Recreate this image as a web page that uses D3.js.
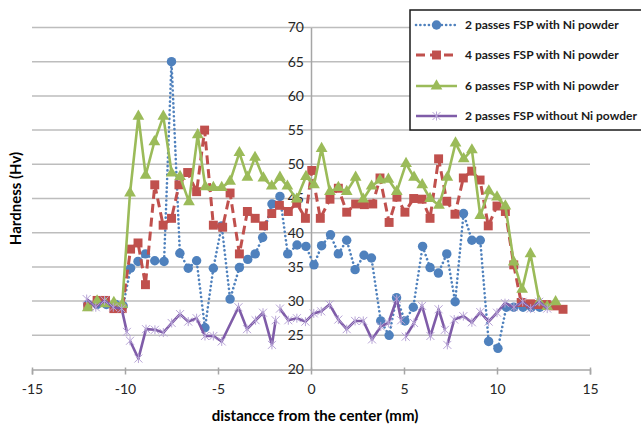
<!DOCTYPE html>
<html>
<head>
<meta charset="utf-8">
<script src="https://cdn.jsdelivr.net/npm/d3@7"></script>
<style>
  body { margin: 0; background: #fff; }
  text { font-family: Lato, "Liberation Sans", sans-serif; }
</style>
</head>
<body>
<div id="container"></div>
<script>
// series values (null = gap in the line)
const blueX = [-12, -11.5, -11, -10.5, -10.1, -9.7, -9.3, -8.9, -8.4, -7.9, -7.5, -7.05, -6.6, -6.15, -5.7, -5.25, -4.8, -4.35, -3.85, -3.4, -3.0, -2.6, -2.1, -1.67, -1.25, -0.75, -0.27, 0.16, 0.57, 1.05, 1.47, 1.92, 2.37, 2.85, 3.25, 3.75, 4.2, 4.6, 5.05, 5.5, 6.0, 6.4, 6.85, 7.3, 7.75, 8.2, 8.65, 9.1, 9.55, 10.05, 10.5, 10.9, 11.4, 11.85, 12.3];
const blueY = [29.5, 29.5, 29.5, 29.5, 29.3, 34.8, 35.8, 36.9, 35.9, 35.8, 65, 37, 34.8, 35.9, 26.1, 34.8, 41, 30.3, 34.9, 36.1, 36.9, 39.3, 44.2, 45.3, 36.9, 38.2, 38, 35.3, 38.1, 39.7, 36.9, 38.9, 34.6, 36.7, 36.3, 27.1, 25, 30.5, 27.1, 29.1, 38, 34.9, 34.1, 36.9, 29.9, 42.8, 38.9, 38.9, 24.1, 23.1, 29.1, 29.1, 29.1, 29.1, 29.1];

const redX = [-12, -11.5, -11.05, -10.6, -10.15, -9.7, -9.3, -8.9, -8.4, -7.95, -7.5, -7.1, -6.63, -6.15, -5.72, -5.25, -4.75, -4.35, -3.85, -3.42, -3.0, -2.55, -2.11, -1.7, -1.22, -0.77, -0.3, 0.04, 0.5, 1.02, 1.47, 1.92, 2.4, 2.87, 3.32, 3.71, 4.2, 4.62, 5.05, 5.52, 5.97, 6.4, 6.86, 7.3, 7.74, 8.19, 8.64, 9.09, 9.53, 10.0, 10.45, 10.9, 11.3, 11.8, 12.25, 12.65, 13.1, 13.55];
const redY = [29.2, 30.1, 30.1, 28.9, 28.9, 37.6, 38.5, 32.4, 47.0, 41.1, 42.1, 47.0, 48.8, 46.0, 55.0, 41.1, 40.8, 45.8, 36.9, 43.1, 42.1, 41.0, 42.8, 44.0, 43.1, 44.3, 42.1, 49.1, 42.1, 44.9, 46.5, 43.0, 44.2, 44.1, 44.2, 48.0, 41.5, 45.2, 43.0, 45.0, 44.9, 42.1, 50.8, 44.6, 42.7, 48.0, 49.0, 47.7, 41.0, 43.9, 43.1, 35.3, 29.8, 29.6, 29.5, 29.5, 29.3, 28.8];

const greenX = [-12, -11.5, -11.05, -10.6, -10.15, -9.73, -9.28, -8.89, -8.42, -7.94, -7.49, -7.04, -6.56, -6.09, -5.68, -5.25, -4.8, -4.35, -3.85, -3.42, -3.01, -2.56, -2.11, -1.67, -1.27, -0.77, -0.27, 0.16, 0.57, 1.02, 1.47, 1.92, 2.4, 2.81, 3.26, 3.71, 4.16, 4.61, 5.11, 5.54, 5.98, 6.4, 6.88, 7.33, 7.77, 8.21, 8.65, 9.1, 9.56, 10.0, 10.45, 10.9, 11.35, 11.8, 12.27, 12.7, 13.15];
const greenY = [29.0, 30.0, 29.6, 29.8, 29.5, 45.8, 57.0, 48.4, 53.3, 57.0, 48.7, 48.2, 44.5, 54.3, 46.7, 46.6, 46.6, 47.5, 51.7, 48.1, 51.0, 48.0, 46.8, 48.1, 46.8, 44.9, 48.2, 47.0, 52.3, 46.0, 46.6, 46.0, 48.1, 44.9, 46.8, 47.7, 47.8, 46.0, 50.1, 48.1, 47.0, 45.0, 44.0, 48.1, 53.1, 50.8, 52.1, 42.5, 46.1, 45.2, 43.9, 35.7, 31.7, 36.9, 29.9, 29.2, 29.9];

const purpleX = [-12.06, -11.57, -11.1, -10.63, -10.18, -9.9, -9.8, -9.73, -9.28, -8.87, -8.39, -7.94, -7.49, -7.04, -6.6, -6.15, -5.7, -5.25, -4.8, -3.9, -3.44, -2.98, -2.58, -2.1, -1.9, -1.8, -1.67, -1.22, -0.76, -0.3, 0.15, 0.55, 1.0, 1.47, 1.92, 2.37, 2.81, 3.28, 3.75, 4.16, 4.61, 4.85, 4.95, 5.09, 5.54, 5.97, 6.42, 6.86, 7.2, 7.27, 7.33, 7.7, 8.19, 8.65, 9.1, 9.55, 10.0, 10.43, 10.91, 11.38, 11.81, 12.27, 12.7];
const purpleY = [30.3, 29.1, 30.1, 29.1, 28.9, 25.5, null, 24.2, 21.6, 25.9, 25.8, 25.4, 26.8, 28.1, 27.0, 27.5, 24.9, 24.9, 24.1, 29.1, 25.9, 27.2, 28.3, 23.6, 27.2, null, 28.9, 27.2, 27.5, 27.0, 28.2, 28.5, 29.5, 27.3, 25.9, 27.1, 27.1, 24.4, 26.3, 26.8, 30.3, 27.2, null, 24.8, 26.8, 29.3, 24.9, 28.8, 25.8, null, 23.6, 27.3, 27.8, 26.9, 28.4, 27.0, 28.3, 29.7, 29.1, 29.9, 28.9, 29.9, 28.9];

const seriesNames = ["2 passes FSP with Ni powder", "4 passes FSP with Ni powder",
                     "6 passes FSP with Ni powder", "2 passes FSP without Ni powder"];
const xTicks = [-15, -10, -5, 0, 5, 10, 15];
const yTicks = [20, 25, 30, 35, 40, 45, 50, 55, 60, 65, 70];

const WIDTH = 641,
      HEIGHT = 436;

const margin = { top: 27.5, bottom: 66.5, left: 32, right: 51 };

const width = WIDTH - margin.left - margin.right,
      height = HEIGHT - margin.top - margin.bottom;

const svg = d3.select('#container').append('svg')
    .attr("width", WIDTH).attr("height", HEIGHT);

const xScale = d3.scaleLinear().domain([-15, 15]).range([margin.left, margin.left + width]);
const yScale = d3.scaleLinear().domain([20, 70]).range([margin.top + height, margin.top]);

// horizontal gridlines
svg.append("g")
    .selectAll("line")
    .data(yTicks.slice(1))
    .join("line")
    .attr("x1", xScale(-15)).attr("x2", xScale(15))
    .attr("y1", d => yScale(d)).attr("y2", d => yScale(d))
    .attr("stroke", "#bdbdbd").attr("stroke-width", 1.5);

// x axis, plain hyphen for negatives
const xAxis = svg.append("g")
    .attr("transform", `translate(0, ${yScale(20)})`)
    .call(d3.axisBottom(xScale).tickValues(xTicks).tickSize(5).tickPadding(10).tickFormat(d => String(d)));
xAxis.select(".domain").attr("stroke", "#a6a6a6").attr("stroke-width", 1.5);
xAxis.selectAll(".tick line").attr("stroke", "#a6a6a6").attr("stroke-width", 1.5).attr("y1", -2);
xAxis.selectAll(".tick text").attr("fill", "#262626").style("font-size", "14px").style("font-family", "Lato");

// y axis crosses at x = 0
const yAxis = svg.append("g")
    .attr("transform", `translate(${xScale(0)}, 0)`)
    .call(d3.axisLeft(yScale).tickValues(yTicks).tickSize(0).tickPadding(7));
yAxis.select(".domain").attr("stroke", "#a6a6a6").attr("stroke-width", 1.5);
yAxis.selectAll(".tick text").attr("fill", "#262626").style("font-size", "14px").style("font-family", "Lato");

svg.append("text")
    .attr("x", xScale(0) + 4).attr("y", 421)
    .attr("text-anchor", "middle")
    .style("font-size", "15px").style("font-weight", "bold")
    .text("distancce from the center (mm)");

svg.append("text")
    .attr("transform", `translate(21, ${yScale(45)}) rotate(-90)`)
    .attr("text-anchor", "middle")
    .style("font-size", "15px").style("font-weight", "bold")
    .text("Hardness (Hv)");

const zip = (xs, ys) => xs.map((x, i) => ({ x: x, y: ys[i] }));

const series = [
    { name: seriesNames[0], data: zip(blueX, blueY), color: "#4F81BD", dash: "0.1 4.2", width: 2.6, cap: "round", marker: "circle" },
    { name: seriesNames[1], data: zip(redX, redY), color: "#C0504D", dash: "9 5", width: 3, cap: "butt", marker: "square" },
    { name: seriesNames[2], data: zip(greenX, greenY), color: "#9BBB59", dash: null, width: 2.6, cap: "butt", marker: "triangle" },
    { name: seriesNames[3], data: zip(purpleX, purpleY), color: "#7F5CA8", dash: null, width: 2.6, cap: "butt", marker: "star" }
];

const line = d3.line()
    .defined(d => d.y !== null)
    .x(d => xScale(d.x))
    .y(d => yScale(d.y));

const starPath = "M-4,-4L4,4M-4,4L4,-4M0,-4.5L0,4.5";

const drawMarker = (sel, s) => {
    if (s.marker === "star") {
        sel.append("path").attr("d", starPath)
            .attr("stroke", "#B7A4D6").attr("stroke-width", 1).attr("fill", "none");
    } else {
        const type = s.marker === "circle" ? d3.symbolCircle
                   : s.marker === "square" ? d3.symbolSquare : d3.symbolTriangle;
        const size = s.marker === "circle" ? 70 : s.marker === "square" ? 80 : 60;
        sel.append("path").attr("d", d3.symbol().type(type).size(size)())
            .attr("fill", s.color);
    }
};

series.forEach(s => {
    const g = svg.append("g");
    g.append("path")
        .datum(s.data)
        .attr("d", line)
        .attr("fill", "none")
        .attr("stroke", s.color)
        .attr("stroke-width", s.width)
        .attr("stroke-linecap", s.cap)
        .attr("stroke-linejoin", "round")
        .attr("stroke-dasharray", s.dash);
    g.selectAll("g.pt")
        .data(s.data.filter(d => d.y !== null))
        .join("g")
        .attr("class", "pt")
        .attr("transform", d => `translate(${xScale(d.x)}, ${yScale(d.y)})`)
        .each(function () { drawMarker(d3.select(this), s); });
});

// legend
const legend = svg.append("g");
legend.append("rect")
    .attr("x", 410).attr("y", 10).attr("width", 240).attr("height", 120)
    .attr("fill", "#fff").attr("stroke", "#1a1a1a").attr("stroke-width", 1.5);

const legendY = [25, 55, 86, 116];
series.forEach((s, i) => {
    const row = legend.append("g").attr("transform", `translate(0, ${legendY[i]})`);
    row.append("line")
        .attr("x1", 416).attr("x2", 457).attr("y1", 0).attr("y2", 0)
        .attr("stroke", s.color).attr("stroke-width", s.width)
        .attr("stroke-linecap", s.cap)
        .attr("stroke-dasharray", s.dash);
    const m = row.append("g").attr("transform", "translate(436.5, 0)");
    drawMarker(m, s);
    row.append("text")
        .attr("x", 465).attr("y", 0).attr("dy", "0.35em")
        .style("font-size", "12px").style("font-weight", "bold")
        .attr("fill", "#1a1a1a")
        .text(s.name);
});
</script>
</body>
</html>
